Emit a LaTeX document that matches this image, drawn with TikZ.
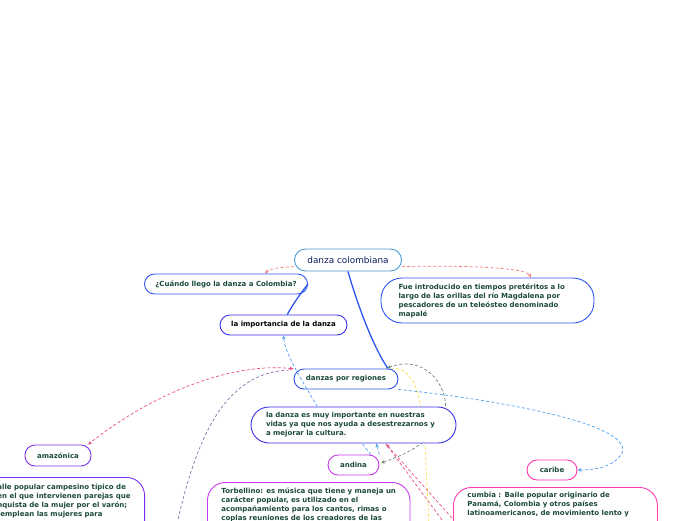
\documentclass[tikz,border=0pt]{standalone}
\usepackage{fontspec}
\setmainfont{DejaVu Sans}
\usetikzlibrary{positioning,arrows.meta}

\definecolor{txtgreen}{HTML}{1B4A3A}
\definecolor{rootblue}{HTML}{4A9BD8}
\definecolor{boxblue}{HTML}{2F55F0}
\definecolor{boxindigo}{HTML}{3A2FE8}
\definecolor{boxpurple}{HTML}{7A2FF0}
\definecolor{boxviolet}{HTML}{C838EC}
\definecolor{boxpink}{HTML}{FF38B0}
\definecolor{lnsalmon}{HTML}{F07C7C}
\definecolor{lnpink}{HTML}{E8507E}
\definecolor{lnpurple}{HTML}{8C6CAA}
\definecolor{lnblue}{HTML}{4C9EF2}
\definecolor{lngrey}{HTML}{6E8878}
\definecolor{lnyellow}{HTML}{FFE04A}

\tikzset{
  idea/.style={draw, line width=0.9pt, fill=white, rounded corners=10pt, text=txtgreen,
    font=\bfseries\fontsize{7}{9}\selectfont, align=left, minimum height=20pt, inner sep=3pt},
  bigidea/.style={idea, rounded corners=18pt, inner xsep=14pt, inner ysep=5pt},
  link/.style={dashed, dash pattern=on 3pt off 2.2pt, line width=0.7pt, -{Stealth[length=4pt,width=3.6pt]}},
  branch/.style={line width=1.3pt, boxblue},
}

\begin{document}
\begin{tikzpicture}[x=1pt, y=-1pt]
\useasboundingbox (0,0) rectangle (696,520);
\clip (0,0) rectangle (696,520);

\draw[link, lnpurple, -] (177,524) coordinate (bambucoend) .. controls (198,430) and (228,372) .. (290,370) coordinate (purpletop);
\draw[link, lnyellow, -] (391,368) coordinate (yellowtop) .. controls (415,368) and (422,395) .. (425,445) -- (429,524) coordinate (yellowend);
\draw[link, lnpink, -] (445,524) coordinate (pinkend1) -- (386,444) coordinate (pinktop);
\draw[link, lnpink] (452,518) coordinate (pinkend2) -- (pinktop);
\draw[link, lngrey, {Stealth[length=4pt,width=3.6pt]}-{Stealth[length=4pt,width=3.6pt]}] (387,368) coordinate (greytop) .. controls (430,352) and (452,395) .. (444,415) .. controls (436,440) and (405,455) .. (381,463) coordinate (greyend);

\node (root) [draw=rootblue, line width=0.9pt, fill=white, rounded corners=11pt, minimum width=107pt, minimum height=22pt,
  text=txtgreen!60!blue!70!black, font=\fontsize{8.9}{10}\selectfont] at (348,260) {danza colombiana};
\node (cuando) [idea, draw=boxblue, minimum width=163pt] at (226,284) {¿Cuándo llego la danza a Colombia?};
\node (fue) [bigidea, draw=boxblue, text width=178pt, inner xsep=17.5pt, minimum height=45pt, rounded corners=21pt] at (487.5,300.5)
  {Fue introducido en tiempos pretéritos a lo\\ largo de las orillas del río Magdalena por\\ pescadores de un teleósteo denominado\\ mapalé};
\node (importancia) [idea, draw=boxindigo, text=black, minimum width=127pt] at (283.5,325) {la importancia de la danza};
\node (regiones) [idea, draw=boxblue, minimum width=104pt] at (346,379) {danzas por regiones};
\node (danzaes) [bigidea, draw=boxindigo, text width=175pt, inner xsep=15pt, minimum height=36pt, inner ysep=3pt] at (353.5,425)
  {la danza es muy importante en nuestras\\ vidas ya que nos ayuda a desestrezarnos y\\ a mejorar la cultura.};
\node (amazonica) [idea, draw=boxpurple, minimum width=66pt, minimum height=21pt] at (58,455.5) {amazónica};
\node (andina) [idea, draw=boxviolet, minimum width=51pt] at (353.5,465) {andina};
\node (caribe) [idea, draw=boxpink, minimum width=50pt] at (552,470) {caribe};
\node (bambuco) [bigidea, draw=boxpurple, anchor=north east, inner ysep=6pt] at (145,477)
  {alle popular campesino típico de\\ en el que intervienen parejas que\\ nquista de la mujer por el varón;\\ \hspace*{3pt}emplean las mujeres para\\ \mbox{}\\ \mbox{}};
\node (torbellino) [bigidea, draw=boxviolet, anchor=north west] at (207,482)
  {Torbellino: es música que tiene y maneja un\\ carácter popular, es utilizado en el\\ acompañamiento para los cantos, rimas o\\ coplas reuniones de los creadores de las\\ \mbox{}\\ \mbox{}};
\node (cumbia) [bigidea, draw=boxpink, anchor=north west, text width=176pt] at (453,487)
  {cumbia : Baile popular originario de\\ Panamá, Colombia y otros países\\ latinoamericanos, de movimiento lento y\\ \mbox{}\\ \mbox{}};

\draw[branch] (root.south) .. controls (356,300) and (372,345) .. (regiones.14);
\draw[branch] (importancia.70) .. controls (294,302) and (302,292) .. (cuando.east);

\draw[link, lnsalmon] (root.187) .. controls (285,267) and (270,268) .. (cuando.15);
\draw[link, lnsalmon] (root.353) .. controls (470,265) and (527,268) .. (fue.28);
\draw[link, lnblue] (danzaes.153) .. controls (305,385) and (285,355) .. (importancia.south);
\draw[link, lnpink, {Stealth[length=4pt,width=3.6pt]}-{Stealth[length=4pt,width=3.6pt]}] (regiones.169) .. controls (230,362) and (150,395) .. (amazonica.20);
\draw[link, lnblue] (regiones.south east) .. controls (500,400) and (640,425) .. (621,455) .. controls (612,467) and (595,470) .. (caribe.east);
\draw[link, lnblue, -] (andina.31) -- (danzaes.-65);
\draw[link, lnblue] (andina.22) -- (danzaes.-39);
\end{tikzpicture}
\end{document}
